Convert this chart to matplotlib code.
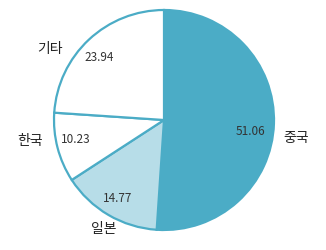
import matplotlib
matplotlib.use("Agg")
import numpy as np
import matplotlib.pyplot as plt

plt.rcParams['font.family'] = ['Noto Sans CJK KR', 'DejaVu Sans']

# data
labels = ['중국', '일본', '한국', '기타']
values = [51.06, 14.77, 10.23, 23.94]
colors = ['#4BACC6', '#B7DDE8', '#FFFFFF', '#FFFFFF']

# label placement tweaks (angle offset in degrees, distance as fraction of radius)
label_shift = [-6, 1.5, -5.7, 15]
label_dist = [1.21, 1.13, 1.23, 1.22]
value_shift = [-5.4, 0, -1.8, 3]
value_dist = [0.79, 0.83, 0.82, 0.82]

cx, cy, r = 164, 130, 110

fig = plt.figure(figsize=(3.26, 2.5), dpi=100)
ax = fig.add_axes([0, 0, 1, 1])

wedges, _ = ax.pie(
    values, colors=colors, startangle=90, counterclock=False,
    center=(cx, cy), radius=r, frame=True,
    wedgeprops=dict(edgecolor='#4BACC6', linewidth=1.6))
ax.set_xlim(0, 326)
ax.set_ylim(0, 250)
ax.set_aspect('equal')
ax.axis('off')

for i, w in enumerate(wedges):
    mid = (w.theta1 + w.theta2) / 2
    a = np.deg2rad(mid + label_shift[i])
    ax.text(cx + label_dist[i] * r * np.cos(a), cy + label_dist[i] * r * np.sin(a),
            labels[i], fontsize=10, color='#222222', ha='center', va='center')
    a = np.deg2rad(mid + value_shift[i])
    ax.text(cx + value_dist[i] * r * np.cos(a), cy + value_dist[i] * r * np.sin(a),
            f"{values[i]:.2f}", fontsize=8.5, color='#333333', ha='center', va='center')

fig.savefig('out.png', dpi=100)
